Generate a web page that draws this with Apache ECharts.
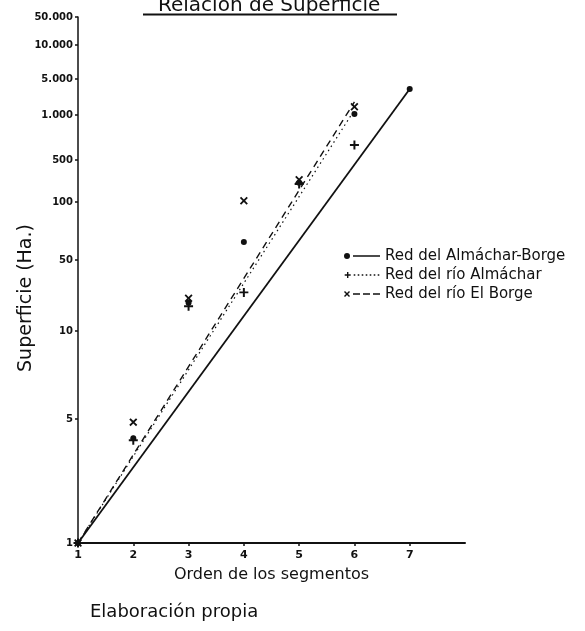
<!DOCTYPE html>
<html>
<head>
    <meta http-equiv="content-type" content="text/html;charset=utf-8" />
    <title>Relación de Superficie</title>
    <script src="https://cdn.jsdelivr.net/npm/echarts@6/dist/echarts.min.js"></script>
    <style>
        html, body { margin: 0; padding: 0; background: #fff; }
    </style>
</head>
<body>
    <div id="main" style="width: 585px;height:631px;"></div>
    <script type="text/javascript">
        // datos
        var orders = [1, 2, 3, 4, 5, 6, 7];
        var almacharBorge = [1, 3.9, 19, 62, 210, 1050, 3200];
        var almachar = [1, 3.8, 17.5, 24, 200, 630];
        var borge = [1, 4.8, 21, 105, 235, 1450];
        // rectas de ajuste: [orden, superficie] inicio y fin
        var fitAlmacharBorge = [[1, 1], [7, 3200]];
        var fitAlmachar = [[1, 1], [6, 1250]];
        var fitBorge = [[1, 1], [6, 1790]];

        // eje vertical dibujado a mano: marcas y su posicion en el eje
        var tickValues = [1, 5, 10, 50, 100, 500, 1000, 5000, 10000, 50000];
        var tickLabels = ['1', '5', '10', '50', '100', '500', '1.000', '5.000', '10.000', '50.000'];
        var tickPos = [0, 124, 212, 283, 341, 383, 428, 464, 498, 526];

        var names = ['Red del Almáchar-Borge', 'Red del río Almáchar', 'Red del río El Borge'];

        // escala logaritmica por tramos, como la del papel
        function toAxis(v) {
            for (var i = 0; i < tickValues.length - 1; i++) {
                if (v <= tickValues[i + 1]) {
                    var a = tickValues[i], b = tickValues[i + 1];
                    var t = (Math.log(v) - Math.log(a)) / (Math.log(b) - Math.log(a));
                    return tickPos[i] + t * (tickPos[i + 1] - tickPos[i]);
                }
            }
            return tickPos[tickPos.length - 1];
        }
        function pts(vals) {
            return vals.map(function (v, i) { return [orders[i], toAxis(v)]; });
        }
        function fit(line) {
            return line.map(function (p) { return [p[0], toAxis(p[1])]; });
        }

        var plusPath = 'path://M3.9,0H6.1V3.9H10V6.1H6.1V10H3.9V6.1H0V3.9H3.9Z';
        var crossPath = 'path://M0,1.6L1.6,0L5,3.4L8.4,0L10,1.6L6.6,5L10,8.4L8.4,10L5,6.6L1.6,10L0,8.4L3.4,5Z';

        // iconos de la leyenda: marca + trazo
        var i, dots = '', dashes = '';
        for (i = 9; i < 36; i += 4) dots += 'M' + i + ',2.2H' + (i + 1.6) + 'V3.8H' + i + 'Z';
        for (i = 9; i < 36; i += 10) dashes += 'M' + i + ',2.2H' + (i + 7) + 'V3.8H' + i + 'Z';
        var icons = [
            'path://M0,3a3,3 0 1,0 6,0a3,3 0 1,0 -6,0ZM9,2.2H36V3.8H9Z',
            'path://M2.3,0H3.7V2.3H6V3.7H3.7V6H2.3V3.7H0V2.3H2.3Z' + dots,
            'path://M0,1L1,0L3,2L5,0L6,1L4,3L6,5L5,6L3,4L1,6L0,5L2,3Z' + dashes
        ];

        var ink = '#111';
        var myChart = echarts.init(document.getElementById('main'));
        var option = {
            backgroundColor: '#fff',
            animation: false,
            textStyle: { fontFamily: 'DejaVu Sans', color: ink },
            grid: { left: 78, right: 120, top: 17, bottom: 88, outerBoundsMode: 'none' },
            graphic: [
                { type: 'text', left: 158, top: -4,
                  style: { text: 'Relación de Superficie', fontSize: 20, fill: ink, fontFamily: 'DejaVu Sans' } },
                { type: 'line', shape: { x1: 143, y1: 14.5, x2: 397, y2: 14.5 },
                  style: { stroke: ink, lineWidth: 2 } },
                { type: 'text', left: 90, top: 603,
                  style: { text: 'Elaboración propia', fontSize: 18, fill: ink, fontFamily: 'DejaVu Sans' } }
            ],
            legend: {
                orient: 'vertical',
                left: 339, top: 243,
                itemWidth: 36, itemHeight: 6, itemGap: 3,
                textStyle: { fontSize: 15, lineHeight: 16, color: ink },
                data: names.map(function (n, k) { return { name: n, icon: icons[k] }; })
            },
            xAxis: {
                type: 'value', min: 1, max: 8, interval: 1,
                name: 'Orden de los segmentos', nameLocation: 'middle', nameGap: 24,
                nameTextStyle: { fontSize: 16, color: ink },
                axisLine: { lineStyle: { color: ink, width: 2 } },
                axisTick: { length: 3, lineStyle: { color: ink, width: 1.5 }, customValues: orders },
                axisLabel: { margin: 7, fontSize: 11, fontWeight: 'bold', color: ink, customValues: orders },
                splitLine: { show: false }
            },
            yAxis: {
                type: 'value', min: 0, max: tickPos[tickPos.length - 1],
                name: 'Superficie (Ha.)', nameLocation: 'middle', nameGap: 42, nameRotate: 90,
                nameMoveOverlap: false,
                nameTextStyle: { fontSize: 19, color: ink, padding: [0, 36, 0, 0] },
                axisLine: { show: true, lineStyle: { color: ink, width: 1.5 } },
                axisTick: { length: 3, lineStyle: { color: ink, width: 1.5 }, customValues: tickPos },
                axisLabel: {
                    margin: 5, fontSize: 10, fontWeight: 'bold', color: ink,
                    customValues: tickPos,
                    formatter: function (v) {
                        var k = tickPos.indexOf(v);
                        return k < 0 ? '' : tickLabels[k];
                    }
                },
                splitLine: { show: false }
            },
            series: [
                { name: names[0], type: 'line', data: fit(fitAlmacharBorge), showSymbol: false, color: ink,
                  lineStyle: { color: ink, width: 1.8 } },
                { name: names[1], type: 'line', data: fit(fitAlmachar), showSymbol: false, color: ink,
                  lineStyle: { color: ink, width: 1.2, type: [1.5, 3.5] } },
                { name: names[2], type: 'line', data: fit(fitBorge), showSymbol: false, color: ink,
                  lineStyle: { color: ink, width: 1.4, type: [7, 5] } },
                { name: 'pts0', type: 'scatter', data: pts(almacharBorge), symbol: 'circle', symbolSize: 6,
                  itemStyle: { color: ink, opacity: 1 } },
                { name: 'pts1', type: 'scatter', data: pts(almachar), symbol: plusPath, symbolSize: 9,
                  itemStyle: { color: ink, opacity: 1 } },
                { name: 'pts2', type: 'scatter', data: pts(borge), symbol: crossPath, symbolSize: 8,
                  itemStyle: { color: ink, opacity: 1 } }
            ]
        };
        myChart.setOption(option);
    </script>
</body>
</html>
